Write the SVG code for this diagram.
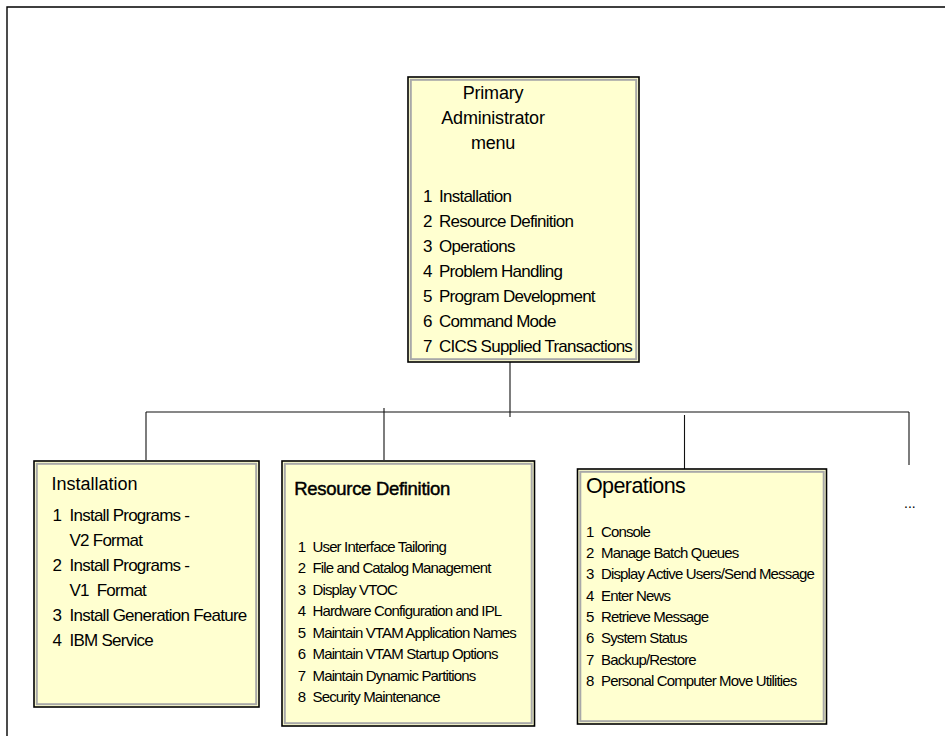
<svg xmlns="http://www.w3.org/2000/svg" width="945" height="736" viewBox="0 0 945 736">
<style>
.frame{fill:none;stroke:#000;stroke-width:1.4}
.box{fill:#FFFFD0;stroke:#000;stroke-width:1.6}
.inner{fill:none;stroke:#A8A8A8;stroke-width:2}
.conn line{stroke:#111;stroke-width:1.1}
text{font-family:"Liberation Sans",Arial,sans-serif;fill:#000}
.t{font-size:18px;letter-spacing:-0.2px}
.i{font-size:17px;letter-spacing:-0.75px}
.s{font-size:15px;letter-spacing:-0.85px}
</style>
<path class="frame" d="M7,736 V7 H945"/>
<g id="connectors" class="conn">
<line x1="510" y1="362" x2="510" y2="417"/>
<line x1="146" y1="412" x2="909" y2="412"/>
<line x1="146" y1="412" x2="146" y2="460"/>
<line x1="384" y1="408" x2="384" y2="460"/>
<line x1="684.5" y1="415" x2="684.5" y2="469"/>
<line x1="909" y1="412" x2="909" y2="465"/>
</g>
<g id="primary">
<rect class="box" x="408" y="77" width="231" height="285"/>
<rect class="inner" x="410.8" y="79.8" width="225.4" height="279.4"/>
<text class="t" x="493" y="98.5" text-anchor="middle">Primary</text>
<text class="t" x="493" y="123.5" text-anchor="middle">Administrator</text>
<text class="t" x="493" y="148.5" text-anchor="middle">menu</text>
<text class="i" y="201.7"><tspan x="423">1</tspan><tspan x="439">Installation</tspan></text>
<text class="i" y="226.7"><tspan x="423">2</tspan><tspan x="439">Resource Definition</tspan></text>
<text class="i" y="251.7"><tspan x="423">3</tspan><tspan x="439">Operations</tspan></text>
<text class="i" y="276.7"><tspan x="423">4</tspan><tspan x="439">Problem Handling</tspan></text>
<text class="i" y="301.7"><tspan x="423">5</tspan><tspan x="439">Program Development</tspan></text>
<text class="i" y="326.7"><tspan x="423">6</tspan><tspan x="439">Command Mode</tspan></text>
<text class="i" y="351.7"><tspan x="423">7</tspan><tspan x="439">CICS Supplied Transactions</tspan></text>
</g>
<g id="installation">
<rect class="box" x="34" y="461" width="225" height="246"/>
<rect class="inner" x="36.8" y="463.8" width="219.4" height="240.4"/>
<text x="51.5" y="490" font-size="18">Installation</text>
<text class="i" y="521"><tspan x="52.5">1</tspan><tspan x="69.5">Install Programs -</tspan></text>
<text class="i" x="69.5" y="546">V2 Format</text>
<text class="i" y="571"><tspan x="52.5">2</tspan><tspan x="69.5">Install Programs -</tspan></text>
<text class="i" x="69.5" y="596" xml:space="preserve">V1  Format</text>
<text class="i" y="621"><tspan x="52.5">3</tspan><tspan x="69.5">Install Generation Feature</tspan></text>
<text class="i" y="646"><tspan x="52.5">4</tspan><tspan x="69.5">IBM Service</tspan></text>
</g>
<g id="resource">
<rect class="box" x="282" y="461" width="252.5" height="265"/>
<rect class="inner" x="284.8" y="463.8" width="246.9" height="259.4"/>
<text x="294.3" y="495" font-size="18.5" letter-spacing="-0.3" stroke="#000" stroke-width="0.45">Resource Definition</text>
<text class="s" y="552"><tspan x="297.7">1</tspan><tspan x="312.5">User Interface Tailoring</tspan></text>
<text class="s" y="573.4"><tspan x="297.7">2</tspan><tspan x="312.5">File and Catalog Management</tspan></text>
<text class="s" y="594.9"><tspan x="297.7">3</tspan><tspan x="312.5">Display VTOC</tspan></text>
<text class="s" y="616.3"><tspan x="297.7">4</tspan><tspan x="312.5">Hardware Configuration and IPL</tspan></text>
<text class="s" y="637.7"><tspan x="297.7">5</tspan><tspan x="312.5">Maintain VTAM Application Names</tspan></text>
<text class="s" y="659.1"><tspan x="297.7">6</tspan><tspan x="312.5">Maintain VTAM Startup Options</tspan></text>
<text class="s" y="680.6"><tspan x="297.7">7</tspan><tspan x="312.5">Maintain Dynamic Partitions</tspan></text>
<text class="s" y="702"><tspan x="297.7">8</tspan><tspan x="312.5">Security Maintenance</tspan></text>
</g>
<g id="operations">
<rect class="box" x="577.5" y="469" width="249" height="255"/>
<rect class="inner" x="580.3" y="471.8" width="243.4" height="249.4"/>
<text x="586" y="492.5" font-size="21.5" letter-spacing="-0.6">Operations</text>
<text class="s" y="536.7"><tspan x="586">1</tspan><tspan x="601">Console</tspan></text>
<text class="s" y="558"><tspan x="586">2</tspan><tspan x="601">Manage Batch Queues</tspan></text>
<text class="s" y="579.3"><tspan x="586">3</tspan><tspan x="601">Display Active Users/Send Message</tspan></text>
<text class="s" y="600.7"><tspan x="586">4</tspan><tspan x="601">Enter News</tspan></text>
<text class="s" y="622"><tspan x="586">5</tspan><tspan x="601">Retrieve Message</tspan></text>
<text class="s" y="643.3"><tspan x="586">6</tspan><tspan x="601">System Status</tspan></text>
<text class="s" y="664.7"><tspan x="586">7</tspan><tspan x="601">Backup/Restore</tspan></text>
<text class="s" y="686"><tspan x="586">8</tspan><tspan x="601">Personal Computer Move Utilities</tspan></text>
</g>
<g id="more">
<text x="904" y="508" font-size="14">...</text>
</g>
</svg>
